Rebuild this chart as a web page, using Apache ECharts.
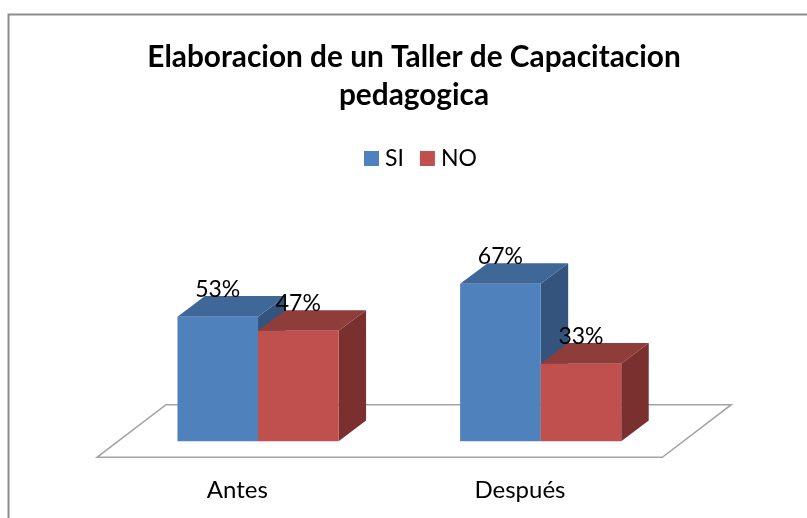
<!DOCTYPE html>
<html>
<head>
<meta charset="utf-8">
<style>
    html, body { margin: 0; padding: 0; background: #fff; }
    #chart { width: 807px; height: 518px; }
</style>
<script src="https://cdn.jsdelivr.net/npm/echarts@6/dist/echarts.min.js"></script>
</head>
<body>
<div id="chart"></div>
<script>
const categories = ["Antes", "Después"];
const si_values = [53, 67];
const no_values = [47, 33];

const myChart = echarts.init(document.getElementById("chart"));

// columna 3D: frente, techo y costado
function renderBar(front, top, side, seriesPos) {
    return function (params, api) {
        const idx = api.value(0);
        const val = api.value(1);
        const w = api.size([1, 0])[0] * 0.285;
        const head = api.coord([idx, val]);
        const base = api.coord([idx, 0]);
        const x0 = head[0] + 19.7 + (seriesPos === 0 ? -w : 0);
        const x1 = x0 + w;
        const y0 = head[1] - 16;
        const y1 = base[1] - 16;
        const dx = 27.5;
        const dy = 20.7;
        return {
            type: "group",
            children: [
                {
                    type: "polygon",
                    shape: { points: [[x1, y0], [x1 + dx, y0 - dy], [x1 + dx, y1 - dy], [x1, y1]] },
                    style: { fill: side },
                },
                {
                    type: "polygon",
                    shape: { points: [[x0, y0], [x0 + dx, y0 - dy], [x1 + dx, y0 - dy], [x1, y0]] },
                    style: { fill: top },
                },
                {
                    type: "rect",
                    shape: { x: x0, y: y0, width: w, height: y1 - y0 },
                    style: { fill: front },
                },
                {
                    type: "text",
                    z2: 50,
                    style: {
                        x: (x0 + x1) / 2,
                        y: y0 - 27,
                        text: val + "%",
                        align: "center",
                        verticalAlign: "middle",
                        fill: "#000",
                        font: "23px Lato",
                    },
                },
            ],
        };
    };
}

// piso del grafico
function renderFloor(params, api) {
    const left = params.coordSys.x;
    const right = left + params.coordSys.width;
    const y = params.coordSys.y + params.coordSys.height;
    return {
        type: "polygon",
        shape: { points: [[left, y], [right, y], [right + 69, y - 52.6], [left + 69, y - 52.6]] },
        style: { fill: "#fff", stroke: "#a3a3a3", lineWidth: 1.5 },
    };
}

myChart.setOption({
    animation: false,
    backgroundColor: "#fff",
    title: {
        text: "Elaboracion de un Taller de Capacitacion\npedagogica",
        left: 409,
        top: 33,
        textAlign: "center",
        textStyle: {
            color: "#000",
            fontFamily: "Lato",
            fontWeight: "bold",
            fontSize: 29.8,
            lineHeight: 38,
        },
    },
    legend: {
        data: ["SI", "NO"],
        left: 359,
        top: 142,
        icon: "rect",
        itemWidth: 15,
        itemHeight: 15,
        itemGap: 16,
        textStyle: {
            color: "#000",
            fontFamily: "Lato",
            fontSize: 23,
            padding: [0, 0, 0, 1],
        },
    },
    grid: { left: 97, top: 222.3, width: 565.3, height: 235 },
    xAxis: {
        type: "category",
        data: categories,
        axisLine: { show: false },
        axisTick: { show: false },
        axisLabel: { color: "#000", fontFamily: "Lato", fontSize: 24, margin: 21, padding: [0, 2, 0, 0] },
    },
    yAxis: { type: "value", min: 0, max: 100, show: false },
    graphic: [
        {
            type: "polyline",
            shape: { points: [[8.5, 518], [8.5, 14.5], [807, 14.5]] },
            style: { fill: null, stroke: "#8c8c8c", lineWidth: 2 },
            z: 0,
        },
    ],
    series: [
        {
            name: "piso",
            type: "custom",
            renderItem: renderFloor,
            data: [[0, 0]],
            z: 1,
            silent: true,
        },
        {
            name: "SI",
            type: "custom",
            renderItem: renderBar("#4f81bd", "#3f6797", "#34547e", 0),
            encode: { x: 0, y: 1 },
            data: si_values.map((v, i) => [i, v]),
            itemStyle: { color: "#4f81bd" },
            z: 2,
        },
        {
            name: "NO",
            type: "custom",
            renderItem: renderBar("#c0504d", "#8e3d3b", "#7a302e", 1),
            encode: { x: 0, y: 1 },
            data: no_values.map((v, i) => [i, v]),
            itemStyle: { color: "#c0504d" },
            z: 3,
        },
    ],
});
</script>
</body>
</html>
